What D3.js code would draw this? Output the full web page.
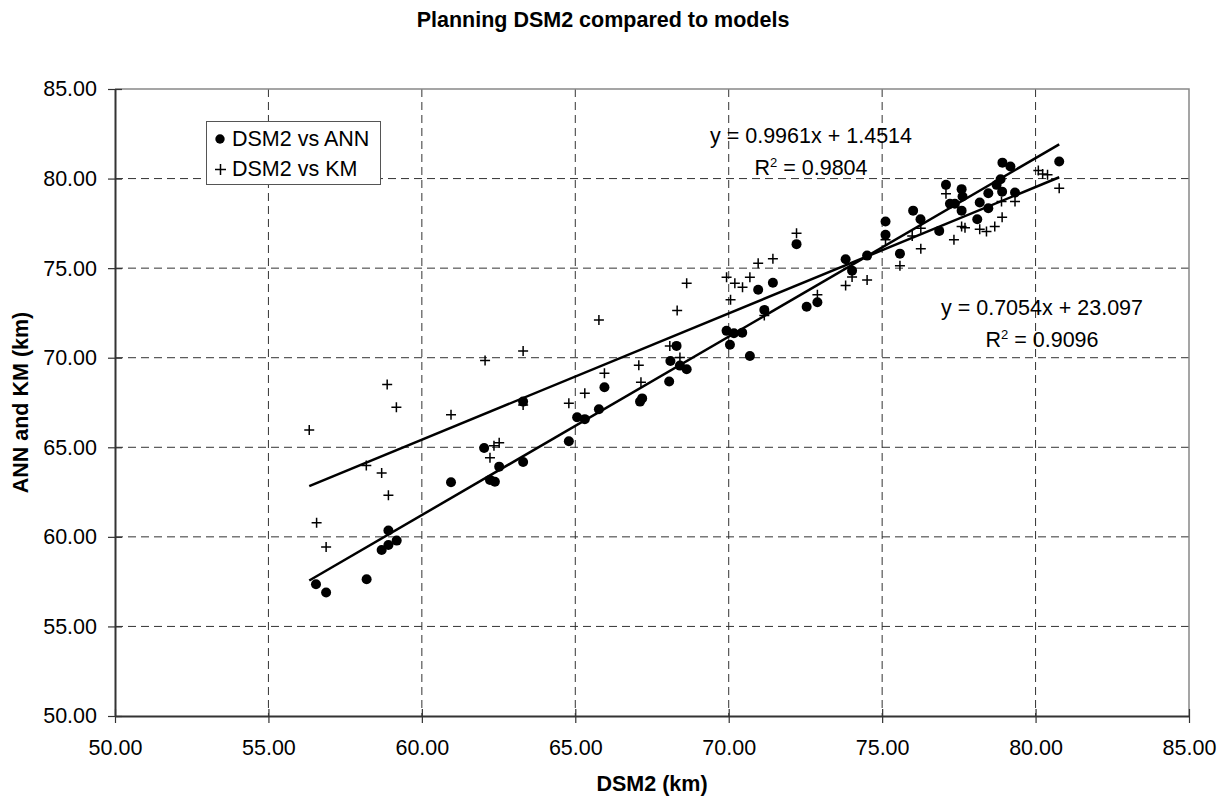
<!DOCTYPE html>
<html>
<head>
<meta charset="utf-8">
<script src="https://cdn.jsdelivr.net/npm/d3@7"></script>
<style>
  body { margin: 0; background: #fff; }
  text { font-family: "Liberation Sans", Arial, sans-serif; }
</style>
</head>
<body>
<div id="chart"></div>
<script>

// DSM2 vs ANN (x = DSM2, y = ANN)
var annX = [56.55, 56.88, 58.20, 58.69, 58.91, 58.91, 59.18, 60.95, 62.03, 62.22, 62.38, 62.52, 63.30, 63.30,
    64.79, 65.06, 65.31, 65.77, 65.95, 67.11, 67.18, 68.06, 68.10, 68.30, 68.41, 68.63, 69.93, 70.17, 70.04,
    70.44, 70.69, 70.96, 71.16, 71.44, 72.21, 72.54, 72.89, 73.81, 74.02, 74.51, 75.11, 75.11, 75.58, 76.01,
    76.25, 76.86, 77.08, 77.21, 77.37, 77.59, 77.62, 77.59, 78.10, 78.18, 78.46, 78.46, 78.73, 78.86, 78.91,
    78.92, 79.18, 79.33, 80.77];
var annY = [57.35, 56.89, 57.63, 59.27, 59.55, 60.35, 59.79, 63.05, 64.96, 63.18, 63.08, 63.92, 64.18, 67.55,
    65.34, 66.68, 66.57, 67.12, 68.35, 67.55, 67.73, 68.67, 69.82, 70.66, 69.56, 69.36, 71.50, 71.37, 70.72,
    71.40, 70.10, 73.79, 72.67, 74.18, 76.34, 72.84, 73.10, 75.50, 74.86, 75.70, 76.86, 77.60, 75.81, 78.21,
    77.73, 77.08, 79.65, 78.59, 78.59, 79.41, 79.00, 78.21, 77.73, 78.66, 79.18, 78.34, 79.65, 79.96, 79.27,
    80.89, 80.67, 79.22, 80.95];

// DSM2 vs KM
var kmX = [56.33, 56.57, 56.88, 58.19, 58.69, 58.87, 58.91, 59.17, 60.95, 62.06, 62.22, 62.35, 62.52, 63.30,
    63.30, 64.79, 65.31, 65.77, 65.95, 67.07, 67.14, 68.08, 68.32, 68.41, 68.63, 69.93, 70.06, 70.20, 70.45,
    70.69, 70.96, 71.16, 71.44, 72.21, 72.89, 73.81, 74.02, 74.51, 75.11, 75.58, 75.98, 76.26, 76.26, 77.08,
    77.34, 77.59, 77.70, 78.18, 78.40, 78.67, 78.91, 78.89, 79.33, 80.09, 80.23, 80.39, 80.77];
var kmY = [65.97, 60.79, 59.44, 63.98, 63.57, 68.50, 62.32, 67.24, 66.81, 69.84, 64.42, 65.09, 65.26, 70.38,
    67.36, 67.46, 68.02, 72.11, 69.13, 69.58, 68.63, 70.66, 72.63, 70.01, 74.16, 74.49, 73.23, 74.16, 73.94,
    74.49, 75.28, 72.35, 75.52, 76.95, 73.51, 74.03, 74.50, 74.34, 76.58, 75.13, 76.80, 76.08, 77.23, 79.15,
    76.58, 77.32, 77.25, 77.17, 77.04, 77.32, 77.84, 78.72, 78.72, 80.45, 80.26, 80.21, 79.46];

// Trendline coefficients as printed on the chart
var trendNames = ["ANN", "KM"];
var trendSlope = [0.9961, 0.7054];
var trendIntercept = [1.4514, 23.097];
var trendLabels = ["y = 0.9961x + 1.4514", "y = 0.7054x + 23.097"];
var trendR2 = ["0.9804", "0.9096"];

var tickValues = [50, 55, 60, 65, 70, 75, 80, 85];

///////////////////////////////////////////////////////////////////////////
///////////////////////////// Set up the SVG //////////////////////////////
///////////////////////////////////////////////////////////////////////////

var width = 1224,
    height = 797,
    margin = {left: 115, top: 89, right: 35, bottom: 81},
    plotW = width - margin.left - margin.right,
    plotH = height - margin.top - margin.bottom;

var svg = d3.select("#chart")
    .append("svg")
        .attr("width", width)
        .attr("height", height);

var g = svg.append("g")
    .attr("transform", "translate(" + margin.left + "," + margin.top + ")");

var x = d3.scaleLinear().domain([50, 85]).range([0, plotW]);
var y = d3.scaleLinear().domain([50, 85]).range([plotH, 0]);

var fontSize = 21.5;

// Title
svg.append("text")
    .attr("x", 603)
    .attr("y", 27)
    .attr("text-anchor", "middle")
    .style("font-size", fontSize + "px")
    .style("font-weight", "bold")
    .text("Planning DSM2 compared to models");

///////////////////////////////////////////////////////////////////////////
///////////////////////////////// Grid ////////////////////////////////////
///////////////////////////////////////////////////////////////////////////

g.append("g")
    .selectAll("line")
    .data(tickValues.slice(1, -1))
    .enter()
    .append("line")
        .attr("x1", d => x(d))
        .attr("x2", d => x(d))
        .attr("y1", 0)
        .attr("y2", plotH)
        .attr("stroke", "#333")
        .attr("stroke-width", 1)
        .attr("stroke-dasharray", "8,5");

g.append("g")
    .selectAll("line")
    .data(tickValues.slice(1, -1))
    .enter()
    .append("line")
        .attr("x1", 0)
        .attr("x2", plotW)
        .attr("y1", d => y(d))
        .attr("y2", d => y(d))
        .attr("stroke", "#333")
        .attr("stroke-width", 1)
        .attr("stroke-dasharray", "8,5");

// top and right border
g.append("path")
    .attr("d", "M0,0H" + plotW + "V" + plotH)
    .attr("fill", "none")
    .attr("stroke", "#888")
    .attr("stroke-width", 1.5);

///////////////////////////////////////////////////////////////////////////
///////////////////////////////// Axes ////////////////////////////////////
///////////////////////////////////////////////////////////////////////////

var xAxis = g.append("g")
    .attr("transform", "translate(0," + plotH + ")")
    .call(d3.axisBottom(x).tickValues(tickValues).tickFormat(d3.format(".2f"))
        .tickSizeInner(7).tickSizeOuter(0).tickPadding(16));

var yAxis = g.append("g")
    .call(d3.axisLeft(y).tickValues(tickValues).tickFormat(d3.format(".2f"))
        .tickSizeInner(7).tickSizeOuter(0).tickPadding(11));

[xAxis, yAxis].forEach(function(ax) {
    ax.select(".domain").attr("stroke", "#333").attr("stroke-width", 2);
    ax.selectAll(".tick line").attr("stroke", "#333").attr("stroke-width", 1.2);
    ax.selectAll(".tick text")
        .attr("fill", "#000")
        .style("font-size", fontSize + "px")
        .style("font-family", "'Liberation Sans', Arial, sans-serif");
});

// ticks cross the axis
xAxis.selectAll(".tick line").attr("y1", -7);
yAxis.selectAll(".tick line").attr("x1", 7);
xAxis.selectAll(".tick text").attr("dy", "0.71em").attr("y", 24);

// Axis titles
svg.append("text")
    .attr("x", margin.left + plotW / 2)
    .attr("y", 791)
    .attr("text-anchor", "middle")
    .style("font-size", fontSize + "px")
    .style("font-weight", "bold")
    .text("DSM2 (km)");

svg.append("text")
    .attr("transform", "translate(28," + (margin.top + plotH / 2) + ") rotate(-90)")
    .attr("text-anchor", "middle")
    .style("font-size", fontSize + "px")
    .style("font-weight", "bold")
    .text("ANN and KM (km)");

///////////////////////////////////////////////////////////////////////////
///////////////////////////////// Points //////////////////////////////////
///////////////////////////////////////////////////////////////////////////

var annData = annX.map((d, i) => ({x: d, y: annY[i]}));
var kmData = kmX.map((d, i) => ({x: d, y: kmY[i]}));

g.append("g")
    .selectAll("path")
    .data(kmData)
    .enter()
    .append("path")
        .attr("d", d => "M" + (x(d.x) - 5) + "," + y(d.y) + "h10M" + x(d.x) + "," + (y(d.y) - 5) + "v10")
        .attr("stroke", "#000")
        .attr("stroke-width", 1.5);

g.append("g")
    .selectAll("circle")
    .data(annData)
    .enter()
    .append("circle")
        .attr("cx", d => x(d.x))
        .attr("cy", d => y(d.y))
        .attr("r", 5)
        .attr("fill", "#000");

///////////////////////////////////////////////////////////////////////////
/////////////////////////////// Trendlines ////////////////////////////////
///////////////////////////////////////////////////////////////////////////

var xExt = d3.extent(annX.concat(kmX));

g.append("g")
    .selectAll("line")
    .data(trendNames)
    .enter()
    .append("line")
        .attr("x1", x(xExt[0]))
        .attr("x2", x(xExt[1]))
        .attr("y1", (d, i) => y(trendSlope[i] * xExt[0] + trendIntercept[i]))
        .attr("y2", (d, i) => y(trendSlope[i] * xExt[1] + trendIntercept[i]))
        .attr("stroke", "#000")
        .attr("stroke-width", 2.5);

// Equation labels
var labelPos = [[811, 143], [1042, 315]];

trendNames.forEach(function(name, i) {
    svg.append("text")
        .attr("x", labelPos[i][0])
        .attr("y", labelPos[i][1])
        .attr("text-anchor", "middle")
        .style("font-size", fontSize + "px")
        .text(trendLabels[i]);

    var r2 = svg.append("text")
        .attr("x", labelPos[i][0])
        .attr("y", labelPos[i][1] + 32)
        .attr("text-anchor", "middle")
        .style("font-size", fontSize + "px");
    r2.append("tspan").text("R");
    r2.append("tspan").attr("dy", -8).style("font-size", "13px").text("2");
    r2.append("tspan").attr("dy", 8).text(" = " + trendR2[i]);
});

///////////////////////////////////////////////////////////////////////////
////////////////////////////////// Legend /////////////////////////////////
///////////////////////////////////////////////////////////////////////////

var legend = svg.append("g");

legend.append("rect")
    .attr("x", 206.5)
    .attr("y", 121.5)
    .attr("width", 174)
    .attr("height", 63)
    .attr("fill", "#fff")
    .attr("stroke", "#555")
    .attr("stroke-width", 1);

legend.append("circle")
    .attr("cx", 220)
    .attr("cy", 139)
    .attr("r", 4.7)
    .attr("fill", "#000");

legend.append("path")
    .attr("d", "M215,169.5h11M220.5,164v11")
    .attr("stroke", "#000")
    .attr("stroke-width", 1.5);

legend.append("text")
    .attr("x", 232)
    .attr("y", 146)
    .style("font-size", fontSize + "px")
    .text("DSM2 vs ANN");

legend.append("text")
    .attr("x", 232)
    .attr("y", 176)
    .style("font-size", fontSize + "px")
    .text("DSM2 vs KM");

</script>
</body>
</html>
